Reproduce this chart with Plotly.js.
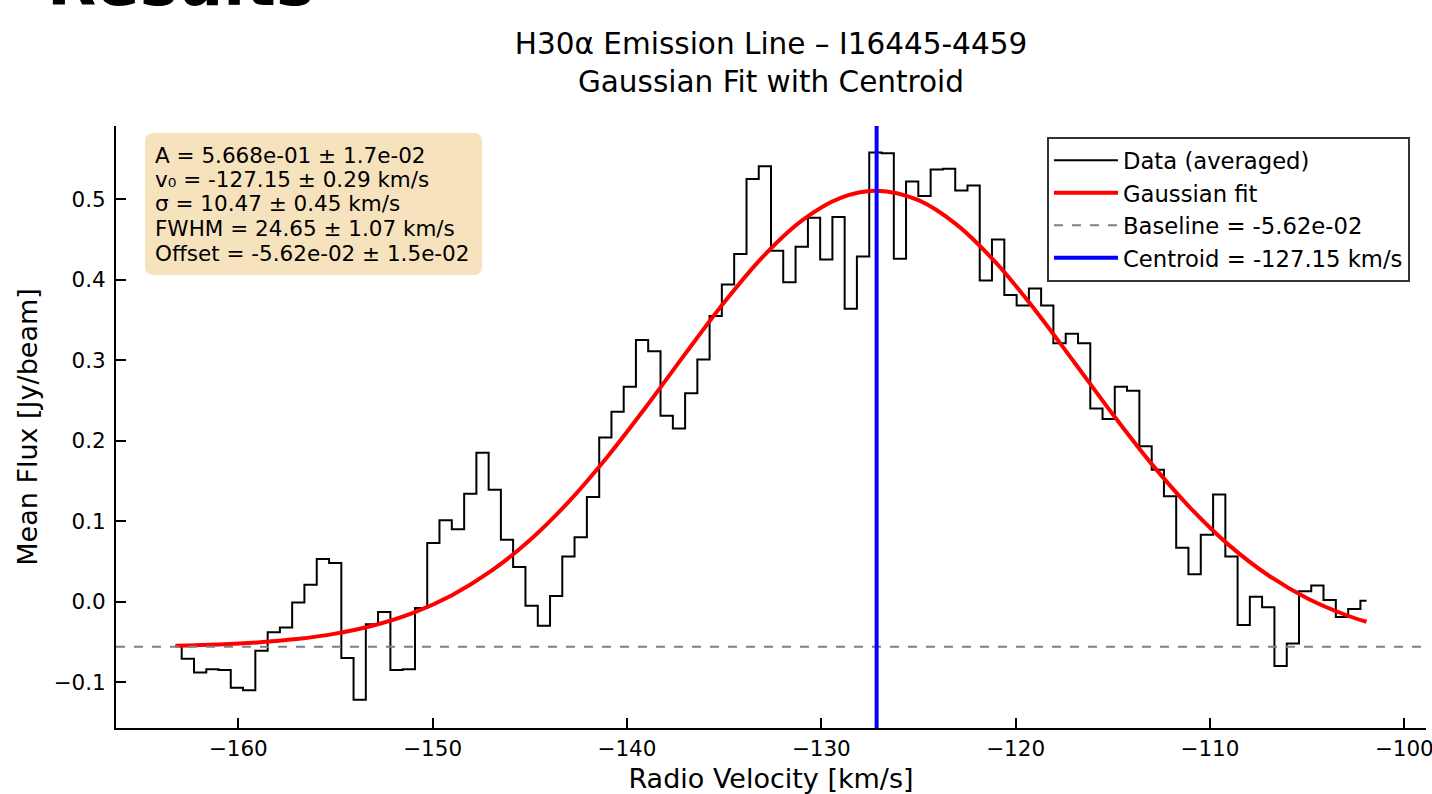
<!DOCTYPE html>
<html>
<head>
<meta charset="utf-8">
<script src="https://cdn.plot.ly/plotly-3.0.1.min.js"></script>
<style>
html,body{margin:0;padding:0;background:#fff;}
#chart{width:1432px;height:794px;}
</style>
</head>
<body>
<div id="chart"></div>
<script>
// Channel velocities (km/s)
const velocity = [
-163.23,-162.59,-161.96,-161.33,-160.70,-160.07,-159.44,-158.80,-158.17,-157.54,
-156.91,-156.28,-155.64,-155.01,-154.38,-153.75,-153.12,-152.49,-151.85,-151.22,
-150.59,-149.96,-149.33,-148.69,-148.06,-147.43,-146.80,-146.17,-145.54,-144.90,
-144.27,-143.64,-143.01,-142.38,-141.74,-141.11,-140.48,-139.85,-139.22,-138.59,
-137.95,-137.32,-136.69,-136.06,-135.43,-134.80,-134.16,-133.53,-132.90,-132.27,
-131.64,-131.00,-130.37,-129.74,-129.11,-128.48,-127.85,-127.21,-126.58,-125.95,
-125.32,-124.69,-124.05,-123.42,-122.79,-122.16,-121.53,-120.90,-120.26,-119.63,
-119.00,-118.37,-117.74,-117.10,-116.47,-115.84,-115.21,-114.58,-113.95,-113.31,
-112.68,-112.05,-111.42,-110.79,-110.15,-109.52,-108.89,-108.26,-107.63,-107.00,
-106.36,-105.73,-105.10,-104.47,-103.84,-103.20,-102.57,-101.94];

// Mean flux (Jy/beam), averaged spectrum
const meanFlux = [
-0.055,-0.071,-0.088,-0.084,-0.085,-0.107,-0.110,-0.061,-0.038,-0.032,
-0.001,0.021,0.053,0.048,-0.070,-0.122,-0.028,-0.013,-0.085,-0.084,
-0.008,0.073,0.101,0.090,0.134,0.185,0.139,0.077,0.043,-0.005,
-0.030,0.007,0.056,0.080,0.130,0.204,0.236,0.267,0.325,0.311,
0.231,0.215,0.259,0.301,0.355,0.394,0.432,0.525,0.541,0.436,
0.397,0.441,0.477,0.425,0.478,0.364,0.429,0.558,0.557,0.426,
0.522,0.504,0.537,0.538,0.511,0.517,0.399,0.450,0.381,0.368,
0.389,0.368,0.321,0.333,0.321,0.240,0.227,0.267,0.262,0.193,
0.164,0.131,0.067,0.034,0.083,0.133,0.056,-0.029,0.006,-0.007,
-0.080,-0.052,0.013,0.020,0.002,-0.019,-0.009,0.001];

// Gaussian fit curve
const fitVelocity = [-163.23,-161,-159,-157,-155,-153,-151,-149,-147,-145,-143,-141,-139,-137,-135,-133,-131,-129,-127.15,-125,-123,-121,-119,-117,-115,-113,-111,-109,-107,-105,-103,-101.94];
const fitFlux = [-0.0547,-0.0532,-0.0507,-0.0465,-0.0397,-0.0293,-0.0139,0.0080,0.0378,0.0763,0.1240,0.1801,0.2425,0.3079,0.3717,0.4287,0.4735,0.5018,0.5106,0.4988,0.4678,0.4208,0.3625,0.2981,0.2329,0.1712,0.1163,0.0699,0.0328,0.0043,-0.0166,-0.0250];

const baselineValue = -0.0562;
const centroidValue = -127.15;

const legendNames = ['Data (averaged)','Gaussian fit','Baseline = -5.62e-02','Centroid = -127.15 km/s'];
const fitParamLines = [
  'A = 5.668e-01 ± 1.7e-02',
  'v₀ = -127.15 ± 0.29 km/s',
  'σ = 10.47 ± 0.45 km/s',
  'FWHM = 24.65 ± 1.07 km/s',
  'Offset = -5.62e-02 ± 1.5e-02'
];
const titleLines = ['H30α Emission Line – I16445-4459','Gaussian Fit with Centroid'];
const xTickVals = [-160,-150,-140,-130,-120,-110,-100];
const yTickVals = [-0.1,0.0,0.1,0.2,0.3,0.4,0.5];

const FONT = 'DejaVu Sans, Verdana, sans-serif';

// plot area geometry (px)
const PL = 116, PR = 1426, PT = 126, PB = 728;
const W = 1432, H = 794;
const px2paperX = p => (p - PL) / (PR - PL);
const px2paperY = p => (PB - p) / (PB - PT);

const traces = [
  {x: velocity, y: meanFlux, type:'scatter', mode:'lines', name: legendNames[0], legendgroup:'g1',
   line:{shape:'hvh', color:'#000000', width:2}},
  {x: fitVelocity, y: fitFlux, type:'scatter', mode:'lines', name: legendNames[1], legendgroup:'g2',
   line:{shape:'spline', color:'#ff0000', width:4}},
  {x:[null], y:[null], type:'scatter', mode:'lines', name: legendNames[2], legendgroup:'g3',
   line:{color:'#808080', width:2, dash:'dash'}},
  {x:[null], y:[null], type:'scatter', mode:'lines', name: legendNames[3], legendgroup:'g4',
   line:{color:'#0000ff', width:4}}
];

// info box (rounded rectangle) geometry in px
const bx0 = 145, bx1 = 482, by0 = 133, by1 = 275, rr = 9;
const X = p => px2paperX(p), Y = p => px2paperY(p);
const roundedPath =
  `M ${X(bx0+rr)} ${Y(by0)} L ${X(bx1-rr)} ${Y(by0)} Q ${X(bx1)} ${Y(by0)} ${X(bx1)} ${Y(by0+rr)} ` +
  `L ${X(bx1)} ${Y(by1-rr)} Q ${X(bx1)} ${Y(by1)} ${X(bx1-rr)} ${Y(by1)} ` +
  `L ${X(bx0+rr)} ${Y(by1)} Q ${X(bx0)} ${Y(by1)} ${X(bx0)} ${Y(by1-rr)} ` +
  `L ${X(bx0)} ${Y(by0+rr)} Q ${X(bx0)} ${Y(by0)} ${X(bx0+rr)} ${Y(by0)} Z`;

const lineCenters = [155, 179.5, 204, 228.5, 253];
const infoAnnotations = fitParamLines.map((t, i) => ({
  text: t, xref:'paper', yref:'paper', x: px2paperX(153), y: px2paperY(lineCenters[i]),
  xanchor:'left', yanchor:'middle', align:'left', showarrow:false,
  font:{size:21.5, family:FONT, color:'#000'}
}));

const layout = {
  width:W, height:H,
  margin:{l:PL, r:W-PR, t:PT, b:H-PB},
  paper_bgcolor:'#ffffff', plot_bgcolor:'#ffffff',
  font:{family:FONT, color:'#000000', size:21.5},
  showlegend:true,
  title:{text: titleLines.join('<br>'), font:{family:FONT, size:29.5, color:'#000'},
         xref:'paper', x:0.5, xanchor:'center', yref:'container', y:1-54/794, yanchor:'top'},
  xaxis:{range:[-166.29,-98.88], tickvals:xTickVals, ticks:'inside', ticklen:10, tickwidth:2,
         tickcolor:'#000', showline:true, linecolor:'#000', linewidth:2, mirror:false,
         showgrid:false, zeroline:false, tickfont:{size:21.5, family:FONT}, ticklabeloverflow:'allow',
         title:{text:'Radio Velocity [km/s]', font:{size:27, family:FONT}, standoff:10}},
  yaxis:{range:[-0.157,0.591], tickvals:yTickVals, tickformat:'.1f', ticks:'inside', ticklen:10, tickwidth:2,
         tickcolor:'#000', showline:true, linecolor:'#000', linewidth:2, mirror:false,
         showgrid:false, zeroline:false, tickfont:{size:21.5, family:FONT}, ticklabelstandoff:4,
         title:{text:'Mean Flux [Jy/beam]', font:{size:27, family:FONT}, standoff:8}},
  legend:{x:px2paperX(1047), y:px2paperY(137), xanchor:'left', yanchor:'top', bgcolor:'#ffffff',
          bordercolor:'#333333', borderwidth:2, font:{size:22.7, family:FONT},
          tracegroupgap:1, itemwidth:64, traceorder:'normal'},
  shapes:[
    {type:'path', xref:'paper', yref:'paper', path: roundedPath,
     fillcolor:'rgba(245,222,179,0.85)', line:{width:0}, layer:'above'},
    {type:'line', xref:'paper', x0:0, x1:1, yref:'y', y0:baselineValue, y1:baselineValue,
     line:{color:'#808080', width:2, dash:'dash'}, layer:'above'},
    {type:'line', xref:'x', x0:centroidValue, x1:centroidValue, yref:'paper', y0:0, y1:1,
     line:{color:'#0000ff', width:4}, layer:'above'}
  ],
  annotations: infoAnnotations.concat([
    {text:'<b>Results</b>', xref:'paper', yref:'paper', x:px2paperX(45), y:px2paperY(22),
     xanchor:'left', yanchor:'bottom', showarrow:false,
     font:{size:64, family:FONT, color:'#000'}}
  ])
};

Plotly.newPlot('chart', traces, layout, {displayModeBar:false, staticPlot:true});
</script>
</body>
</html>
